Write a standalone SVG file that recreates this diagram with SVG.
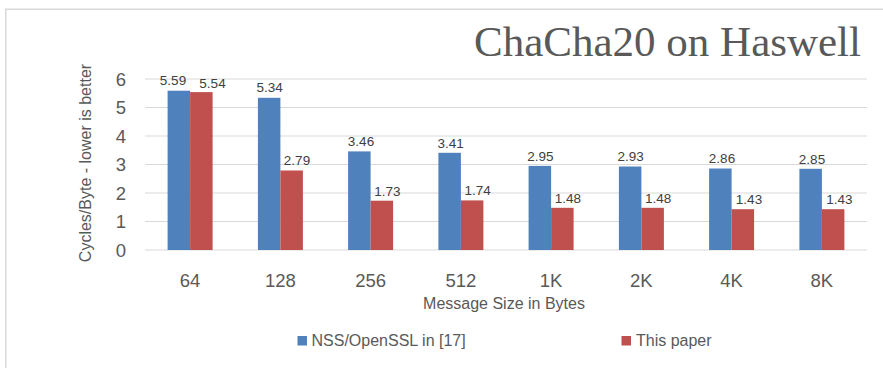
<svg xmlns="http://www.w3.org/2000/svg" width="883" height="368" viewBox="0 0 883 368">
  <style>
    .grid { stroke: #d9d9d9; stroke-width: 1.2; }
    .frame { fill: none; stroke: #d9d9d9; stroke-width: 1.5; }
    .s1 { fill: #4f81bd; }
    .s2 { fill: #c0504d; }
    .tick { font-family: "Liberation Sans", Arial, sans-serif; font-size: 18.5px; fill: #595959; }
    .val { font-family: "Liberation Sans", Arial, sans-serif; font-size: 13.5px; fill: #404040; text-anchor: middle; }
    .axt { font-family: "Liberation Sans", Arial, sans-serif; font-size: 16px; fill: #595959; text-anchor: middle; }
    .leg { font-family: "Liberation Sans", Arial, sans-serif; font-size: 16px; fill: #595959; }
    .title { font-family: "Liberation Serif", "Times New Roman", serif; font-size: 43px; fill: #595959; text-anchor: end; }
  </style>

  <rect width="883" height="368" fill="#ffffff"/>
  <rect class="frame" x="5.75" y="9.25" width="890" height="370"/>

  <text class="title" x="861" y="56">ChaCha20 on Haswell</text>

  <!-- horizontal gridlines, 1 unit = 28.5 px, zero at y=250 -->
  <g id="gridlines">
    <line class="grid" x1="145" y1="250" x2="867" y2="250"/>
    <line class="grid" x1="145" y1="221.5" x2="867" y2="221.5"/>
    <line class="grid" x1="145" y1="193" x2="867" y2="193"/>
    <line class="grid" x1="145" y1="164.5" x2="867" y2="164.5"/>
    <line class="grid" x1="145" y1="136" x2="867" y2="136"/>
    <line class="grid" x1="145" y1="107.5" x2="867" y2="107.5"/>
    <line class="grid" x1="145" y1="79" x2="867" y2="79"/>
  </g>

  <g id="y-axis">
    <text class="tick" x="126" y="256.5" text-anchor="end">0</text>
    <text class="tick" x="126" y="228" text-anchor="end">1</text>
    <text class="tick" x="126" y="199.5" text-anchor="end">2</text>
    <text class="tick" x="126" y="171" text-anchor="end">3</text>
    <text class="tick" x="126" y="142.5" text-anchor="end">4</text>
    <text class="tick" x="126" y="114" text-anchor="end">5</text>
    <text class="tick" x="126" y="85.5" text-anchor="end">6</text>
    <text class="axt" transform="translate(91,163) rotate(-90)">Cycles/Byte - lower is better</text>
  </g>

  <!-- bars: group centre = 145 + (i + 0.5) * 90.25, bar width 22.5 -->
  <g id="group-64">
    <rect class="s1" x="167.6" y="90.7" width="22.5" height="159.3"/>
    <rect class="s2" x="190.1" y="92.1" width="22.5" height="157.9"/>
    <text class="val" x="173" y="84.5">5.59</text>
    <text class="val" x="212.5" y="87.5">5.54</text>
    <text class="tick" x="190.1" y="286.5" text-anchor="middle">64</text>
  </g>
  <g id="group-128">
    <rect class="s1" x="257.9" y="97.8" width="22.5" height="152.2"/>
    <rect class="s2" x="280.4" y="170.5" width="22.5" height="79.5"/>
    <text class="val" x="269.6" y="92">5.34</text>
    <text class="val" x="297" y="165">2.79</text>
    <text class="tick" x="280.4" y="286.5" text-anchor="middle">128</text>
  </g>
  <g id="group-256">
    <rect class="s1" x="348.1" y="151.4" width="22.5" height="98.6"/>
    <rect class="s2" x="370.6" y="200.7" width="22.5" height="49.3"/>
    <text class="val" x="361" y="146.3">3.46</text>
    <text class="val" x="387.3" y="195.6">1.73</text>
    <text class="tick" x="370.6" y="286.5" text-anchor="middle">256</text>
  </g>
  <g id="group-512">
    <rect class="s1" x="438.4" y="152.8" width="22.5" height="97.2"/>
    <rect class="s2" x="460.9" y="200.4" width="22.5" height="49.6"/>
    <text class="val" x="450.6" y="147.5">3.41</text>
    <text class="val" x="477.6" y="195.2">1.74</text>
    <text class="tick" x="460.9" y="286.5" text-anchor="middle">512</text>
  </g>
  <g id="group-1k">
    <rect class="s1" x="528.6" y="165.9" width="22.5" height="84.1"/>
    <rect class="s2" x="551.1" y="207.8" width="22.5" height="42.2"/>
    <text class="val" x="540.4" y="160.6">2.95</text>
    <text class="val" x="567.9" y="202.5">1.48</text>
    <text class="tick" x="551.1" y="286.5" text-anchor="middle">1K</text>
  </g>
  <g id="group-2k">
    <rect class="s1" x="618.9" y="166.5" width="22.5" height="83.5"/>
    <rect class="s2" x="641.4" y="207.8" width="22.5" height="42.2"/>
    <text class="val" x="630.6" y="161.2">2.93</text>
    <text class="val" x="658.2" y="202.5">1.48</text>
    <text class="tick" x="641.4" y="286.5" text-anchor="middle">2K</text>
  </g>
  <g id="group-4k">
    <rect class="s1" x="709.1" y="168.5" width="22.5" height="81.5"/>
    <rect class="s2" x="731.6" y="209.2" width="22.5" height="40.8"/>
    <text class="val" x="722" y="163.2">2.86</text>
    <text class="val" x="749" y="203.9">1.43</text>
    <text class="tick" x="731.6" y="286.5" text-anchor="middle">4K</text>
  </g>
  <g id="group-8k">
    <rect class="s1" x="799.4" y="168.8" width="22.5" height="81.2"/>
    <rect class="s2" x="821.9" y="209.2" width="22.5" height="40.8"/>
    <text class="val" x="812" y="163.5">2.85</text>
    <text class="val" x="839.3" y="203.9">1.43</text>
    <text class="tick" x="821.9" y="286.5" text-anchor="middle">8K</text>
  </g>

  <text class="axt" x="504" y="309">Message Size in Bytes</text>

  <g id="legend">
    <rect class="s1" x="297.5" y="336" width="9.5" height="9.5"/>
    <text class="leg" x="311.5" y="346">NSS/OpenSSL in [17]</text>
    <rect class="s2" x="621.5" y="336" width="9.5" height="9.5"/>
    <text class="leg" x="636" y="346">This paper</text>
  </g>
</svg>
